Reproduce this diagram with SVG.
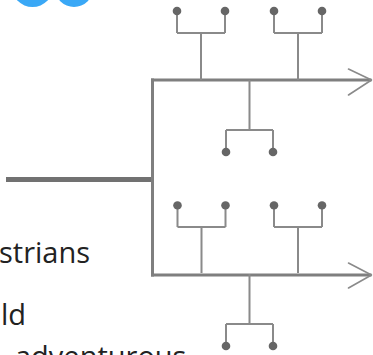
<svg xmlns="http://www.w3.org/2000/svg" width="373" height="355" viewBox="0 0 373 355">
  <style>
    .trunk { stroke: #7f7f7f; stroke-width: 3; fill: none; stroke-linecap: square; }
    .feed { stroke: #717171; stroke-width: 5; fill: none; }
    .stem { stroke: #8a8a8a; stroke-width: 2; fill: none; }
    .tip { stroke: #8a8a8a; stroke-width: 1.6; fill: none; stroke-linecap: round; stroke-linejoin: round; }
    .leaf { fill: #666666; }
    .label { font-family: "Open Sans", "Noto Sans", sans-serif; font-size: 29px; font-weight: 400; fill: #222222; }
  </style>
  <defs>
    <!-- two-pronged fork with dots; origin at the stem's junction point -->
    <g id="forkUp">
      <path class="stem" d="M0 0 V-47 M-24 -47 H24 M-24 -47 V-69 M24 -47 V-69"/>
      <circle class="leaf" cx="-24" cy="-69" r="4.3"/>
      <circle class="leaf" cx="24" cy="-69" r="4.3"/>
    </g>
    <g id="forkDown">
      <path class="stem" d="M0 0 V50 M-23.5 50 H23.5 M-23.5 50 V72 M23.5 50 V72"/>
      <circle class="leaf" cx="-23.5" cy="72" r="4.3"/>
      <circle class="leaf" cx="23.5" cy="72" r="4.3"/>
    </g>
  </defs>

  <!-- partial blue discs at the top edge -->
  <circle cx="32.5" cy="-14" r="21" fill="#3aa8f6"/>
  <circle cx="74" cy="-12" r="19" fill="#3aa8f6"/>

  <g id="connectors">
    <!-- main feed line and split -->
    <path class="feed" d="M6 179.5 H152.5"/>
    <path class="trunk" d="M152.5 80 V275"/>
    <path class="trunk" d="M152.5 80 H370"/>
    <path class="trunk" d="M152.5 275 H370"/>
    <!-- open arrow tips -->
    <path class="tip" d="M348.5 69 L371.5 80 L348.5 95"/>
    <path class="tip" d="M348.5 263 L371.5 275 L348.5 288"/>
  </g>

  <g id="branch-top-1"><use href="#forkUp" transform="translate(201 80)"/></g>
  <g id="branch-top-2"><use href="#forkUp" transform="translate(298 80)"/></g>
  <g id="branch-top-mid"><use href="#forkDown" transform="translate(249.5 80)"/></g>
  <g id="branch-bottom-1"><use href="#forkUp" transform="translate(201.5 275) translate(0 -2) scale(1 0.98)"/></g>
  <g id="branch-bottom-2"><use href="#forkUp" transform="translate(298 275) translate(0 -2) scale(1 0.98)"/></g>
  <g id="branch-bottom-mid"><use href="#forkDown" transform="translate(249.5 275) translate(0 -1)"/></g>

  <g id="text">
    <text class="label" x="-1" y="263">strians</text>
    <text class="label" x="1" y="325">ld</text>
    <text class="label" x="15" y="367">adventurous</text>
  </g>
</svg>
